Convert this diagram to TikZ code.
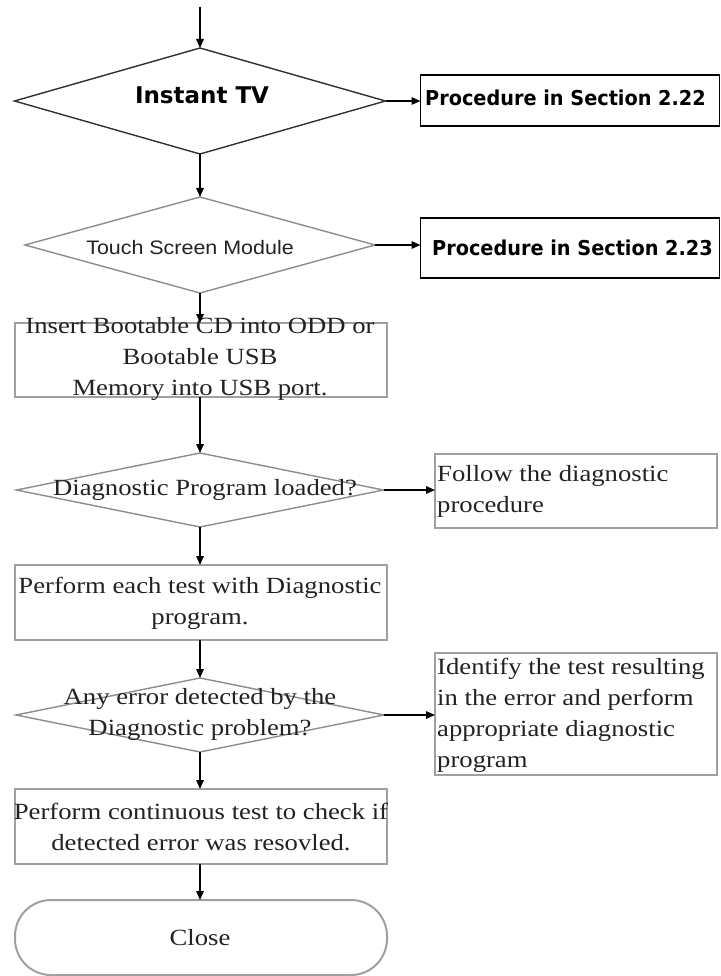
\documentclass[tikz,border=0pt]{standalone}
\usepackage{fontspec}
\setmainfont[FakeStretch=1.15]{Liberation Serif}
\newfontfamily\boldsansfam{DejaVu Sans}
\newfontfamily\procsansfam[FakeStretch=0.94]{DejaVu Sans}
\newfontfamily\narrowsansfam[FakeStretch=1.1]{Liberation Sans}
\usetikzlibrary{shapes.geometric,arrows.meta}
\definecolor{linegray}{HTML}{8C8C8C}
\definecolor{boxgray}{HTML}{A0A0A0}
\definecolor{darkline}{HTML}{303030}
\definecolor{txtgray}{HTML}{222222}
\tikzset{
  diashape/.style={diamond, inner sep=0pt, outer sep=0pt, draw=linegray, line width=1.4pt},
  boxshape/.style={rectangle, inner sep=0pt, outer sep=0pt, draw=boxgray, line width=2pt},
  procbox/.style={rectangle, inner sep=0pt, outer sep=0pt, draw=black, line width=1.6pt},
  endshape/.style={rectangle, rounded corners=36pt, inner sep=0pt, outer sep=0pt, draw=boxgray, line width=2pt},
  serif/.style={font=\fontsize{23.2}{31}\selectfont, text=txtgray, inner sep=0pt},
  boldtxt/.style={font=\procsansfam\bfseries\fontsize{20.5}{24}\selectfont, text=black, inner sep=0pt},
  flow/.style={draw=black, line width=1.5pt, -{Triangle[length=9pt,width=7.5pt]}},
}
\begin{document}
\begin{tikzpicture}[x=1pt,y=-1pt]
\useasboundingbox (0,0) rectangle (720,976);
% shapes
\node[diashape, draw=darkline, minimum width=371pt, minimum height=106pt] (d1) at (200,101) {};
\node[procbox, minimum width=299pt, minimum height=51pt] (p22) at (570,100.5) {};
\node[diashape, minimum width=350pt, minimum height=96pt] (d2) at (200,245) {};
\node[procbox, minimum width=299pt, minimum height=60pt] (p23) at (570,248) {};
\node[boxshape, minimum width=372pt, minimum height=74pt] (b3) at (201,360) {};
\node[diashape, minimum width=367pt, minimum height=74pt] (d4) at (200,490) {};
\node[boxshape, minimum width=282pt, minimum height=74pt] (f4) at (576,491) {};
\node[boxshape, minimum width=372pt, minimum height=75pt] (b5) at (201,602.5) {};
\node[diashape, minimum width=368pt, minimum height=74pt] (d6) at (200,715) {};
\node[boxshape, minimum width=282pt, minimum height=122pt] (f6) at (576,714) {};
\node[boxshape, minimum width=372pt, minimum height=75pt] (b7) at (201,826.5) {};
\node[endshape, minimum width=372pt, minimum height=75pt] (cl) at (201,937.5) {};
% texts
\node[boldtxt, font=\boldsansfam\bfseries\fontsize{23}{26}\selectfont] (t1) at (202,95) {Instant TV};
\node[boldtxt, anchor=west] (t22) at (425,98) {Procedure in Section 2.22};
\node[inner sep=0pt, text=txtgray, font=\narrowsansfam\fontsize{19.5}{22}\selectfont] (t2) at (190,248) {Touch Screen Module};
\node[boldtxt, anchor=west] (t23) at (432,248) {Procedure in Section 2.23};
\node[serif, align=center] (t3) at (200,359) {Insert Bootable CD into ODD or\\Bootable USB\\Memory into USB port.};
\node[serif] (t4) at (205,490) {Diagnostic Program loaded?};
\node[serif, align=left, anchor=west] (tf4) at (437,491) {Follow the diagnostic\\procedure};
\node[serif, align=center] (t5) at (200,603) {Perform each test with Diagnostic\\program.};
\node[serif, align=center] (t6) at (200,714) {Any error detected by the\\Diagnostic problem?};
\node[serif, align=left, anchor=west] (tf6) at (437,715) {Identify the test resulting\\in the error and perform\\appropriate diagnostic\\program};
\node[serif, align=center] (t7) at (201,827) {Perform continuous test to check if\\detected error was resovled.};
\node[serif] (tc) at (200,938) {Close};
% connectors
\coordinate (start) at (200,7);
\draw[flow] (start) -- (d1.north);
\draw[flow] (d1.east) -- (d1.east -| p22.west);
\draw[flow] (d1.south) -- (d2.north);
\draw[flow] (d2.east) -- (d2.east -| p23.west);
\draw[flow] (d2.south) -- (d2.south |- b3.north);
\draw[flow] (b3.south -| d4.north) -- (d4.north);
\draw[flow] (d4.east) -- (d4.east -| f4.west);
\draw[flow] (d4.south) -- (d4.south |- b5.north);
\draw[flow] (b5.south -| d6.north) -- (d6.north);
\draw[flow] (d6.east) -- (d6.east -| f6.west);
\draw[flow] (d6.south) -- (d6.south |- b7.north);
\draw[flow] (b7.south -| d6.south) -- (d6.south |- cl.north);
\end{tikzpicture}
\end{document}
